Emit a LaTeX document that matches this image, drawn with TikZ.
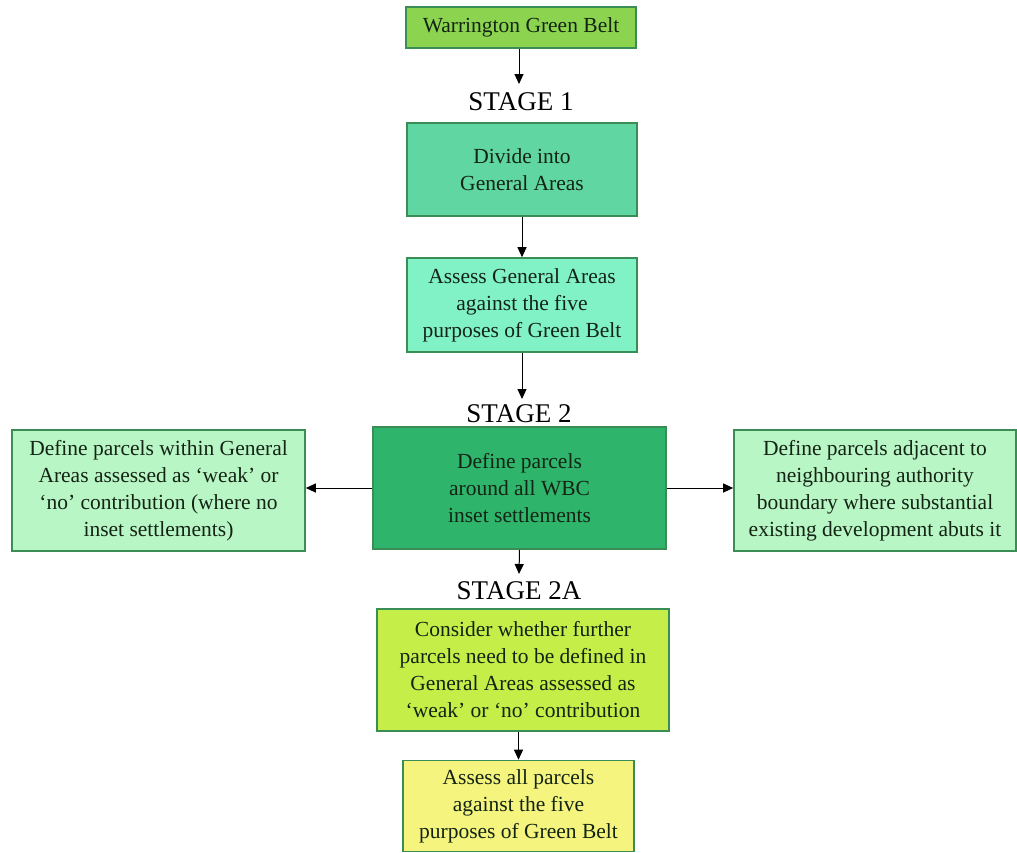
\documentclass[tikz,border=0pt]{standalone}
\usepackage{fontspec}
\setmainfont{Liberation Serif}
\usetikzlibrary{arrows.meta}
\definecolor{cTop}{HTML}{8CD450}
\definecolor{cDiv}{HTML}{60D6A2}
\definecolor{cAss}{HTML}{80F2C6}
\definecolor{cMid}{HTML}{2FB46C}
\definecolor{cSide}{HTML}{B9F6C6}
\definecolor{cCon}{HTML}{C6EE48}
\definecolor{cFin}{HTML}{F4F47E}
\definecolor{cEdge}{HTML}{3A8E55}
\definecolor{cTxt}{HTML}{142414}
\tikzset{
  box/.style={draw=cEdge, line width=1.6pt, rectangle, align=center,
    font=\fontsize{21.5}{27}\selectfont, text=cTxt, inner sep=0pt},
  stagelbl/.style={font=\fontsize{27}{30}\selectfont, text=black, inner sep=0pt},
  arr/.style={-{Triangle[length=10pt,width=9pt]}, line width=1pt, black}
}
\begin{document}
\begin{tikzpicture}[x=1pt,y=-1pt]
\useasboundingbox (0,0) rectangle (1017,852);
\node[box, fill=cTop, minimum width=230pt, minimum height=41pt] (wgb) at (521,27.5) {Warrington Green Belt};
\node[stagelbl] (s1) at (521,102) {STAGE 1};
\node[box, fill=cDiv, minimum width=230pt, minimum height=93pt] (div) at (522,169.5) {Divide into\\General Areas};
\node[box, fill=cAss, minimum width=230pt, minimum height=94pt] (ass) at (522,305) {Assess General Areas\\against the five\\purposes of Green Belt};
\node[stagelbl] (s2) at (519,414) {STAGE 2};
\node[box, fill=cMid, minimum width=293pt, minimum height=122pt] (mid) at (519.5,488) {Define parcels\\around all WBC\\inset settlements};
\node[box, fill=cSide, minimum width=293pt, minimum height=121pt] (left) at (158.5,490.5) {Define parcels within General\\Areas assessed as `weak' or\\`no' contribution (where no\\inset settlements)};
\node[box, fill=cSide, minimum width=282pt, minimum height=121pt] (right) at (875,490.5) {Define parcels adjacent to\\neighbouring authority\\boundary where substantial\\existing development abuts it};
\node[stagelbl] (s2a) at (519,591) {STAGE 2A};
\node[box, fill=cCon, minimum width=292pt, minimum height=122pt] (con) at (523,670) {Consider whether further\\parcels need to be defined in\\General Areas assessed as\\`weak' or `no' contribution};
\node[box, fill=cFin, minimum width=231pt, minimum height=91pt] (fin) at (518.5,806) {Assess all parcels\\against the five\\purposes of Green Belt};
\coordinate (s1top) at (519,84);
\coordinate (s2top) at (522,399);
\coordinate (s2atop) at (519,574);
\draw[arr] (wgb.south -| s1top) -- (s1top);
\draw[arr] (div.south) -- (ass.north);
\draw[arr] (ass.south) -- (s2top);
\draw[arr] (mid.west) -- (left.east |- mid.west);
\draw[arr] (mid.east) -- (right.west |- mid.east);
\draw[arr] (mid.south) -- (s2atop);
\draw[arr] (con.south -| fin.north) -- (fin.north);
\end{tikzpicture}
\end{document}
